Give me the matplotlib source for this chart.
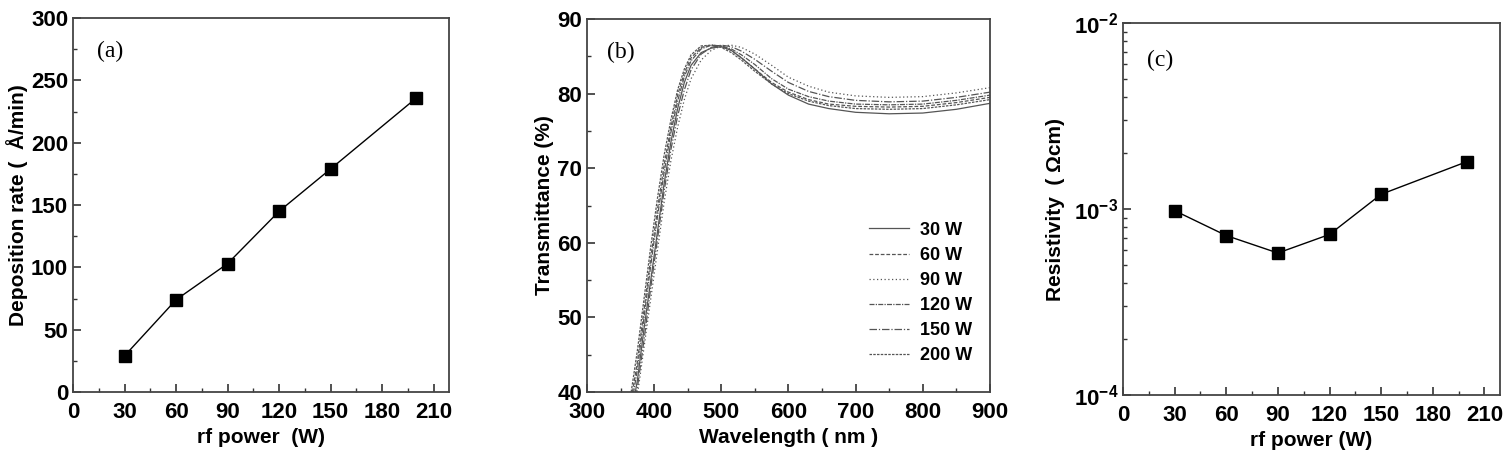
import matplotlib
matplotlib.use('Agg')
import matplotlib.pyplot as plt
from matplotlib.ticker import MultipleLocator, FixedLocator, FixedFormatter, LogLocator, NullFormatter

plt.rcParams['font.family'] = ['Liberation Sans', 'DejaVu Sans']
plt.rcParams['font.weight'] = 'bold'
plt.rcParams['mathtext.fontset'] = 'custom'
plt.rcParams['mathtext.rm'] = 'Liberation Sans:bold'
plt.rcParams['mathtext.bf'] = 'Liberation Sans:bold'

# (a) deposition rate vs rf power
power = [30, 60, 90, 120, 150, 200]
dep_rate = [29, 74, 103, 145, 179, 236]

# (c) resistivity vs rf power
resistivity = [0.98e-3, 0.72e-3, 0.58e-3, 0.73e-3, 1.2e-3, 1.8e-3]

# (b) transmittance spectra
wl = [365, 375, 385, 395, 405, 415, 425, 435, 445, 455, 470, 485, 500,
      515, 530, 550, 575, 600, 630, 660, 700, 750, 800, 850, 900]
trans = {
    '30 W':  [36.5, 41.5, 48.5, 55.0, 61.5, 68.0, 73.5, 78.0, 81.5, 83.8, 85.5, 86.1, 86.3,
              85.8, 84.8, 83.3, 81.3, 79.8, 78.6, 78.0, 77.5, 77.3, 77.4, 77.9, 78.7],
    '60 W':  [38.5, 44.0, 51.0, 58.0, 64.5, 70.5, 75.5, 79.8, 82.8, 84.8, 86.2, 86.5, 86.4,
              85.8, 84.8, 83.3, 81.5, 80.2, 79.2, 78.6, 78.3, 78.2, 78.3, 78.8, 79.5],
    '90 W':  [35.0, 39.5, 46.0, 52.5, 59.0, 65.5, 71.0, 75.5, 79.2, 82.0, 84.5, 85.8, 86.4,
              86.5, 86.2, 85.3, 83.8, 82.2, 81.0, 80.2, 79.7, 79.5, 79.6, 80.1, 80.8],
    '120 W': [37.5, 43.0, 50.0, 57.0, 63.5, 69.5, 74.8, 79.0, 82.3, 84.4, 86.0, 86.5, 86.4,
              86.0, 85.2, 83.9, 82.0, 80.6, 79.6, 79.0, 78.6, 78.5, 78.6, 79.1, 79.8],
    '150 W': [36.0, 40.5, 47.0, 54.0, 60.5, 67.0, 72.5, 77.0, 80.5, 83.2, 85.3, 86.2, 86.5,
              86.3, 85.7, 84.6, 83.0, 81.5, 80.3, 79.6, 79.1, 78.9, 79.0, 79.5, 80.2],
    '200 W': [39.5, 45.5, 52.5, 59.5, 66.0, 71.8, 76.5, 80.5, 83.3, 85.2, 86.4, 86.5, 86.2,
              85.5, 84.5, 83.0, 81.3, 80.0, 79.0, 78.4, 78.0, 77.9, 78.0, 78.5, 79.2],
}
styles = ['-', (0, (3, 1.5)), (0, (1, 2)), (0, (4, 1, 1, 1)), (0, (6, 1.5, 1, 1.5)), (0, (2, 1))]

fig = plt.figure(figsize=(15.12, 4.65), dpi=100)
ax1 = fig.add_axes([0.0483, 0.157, 0.2487, 0.804])
ax2 = fig.add_axes([0.3882, 0.157, 0.2665, 0.802])
ax3 = fig.add_axes([0.7427, 0.1505, 0.2493, 0.80])


def style_axes(ax):
    for s in ax.spines.values():
        s.set_linewidth(1.3)
        s.set_color('#444444')
    ax.tick_params(which='major', length=6, direction='in', labelsize=16,
                   width=1.2, color='#333333')
    ax.tick_params(axis='x', which='major', pad=7)
    ax.tick_params(which='minor', length=3, direction='in', width=1.0, color='#333333')


# panel a
ax1.plot(power, dep_rate, color='black', lw=1.0, marker='s', ms=9)
ax1.set_xlim(0, 219)
ax1.set_ylim(0, 300)
ax1.xaxis.set_major_locator(MultipleLocator(30))
ax1.xaxis.set_minor_locator(MultipleLocator(15))
ax1.yaxis.set_major_locator(MultipleLocator(50))
ax1.yaxis.set_minor_locator(MultipleLocator(25))
style_axes(ax1)
ax1.set_xlabel('rf power  (W)', fontsize=15, fontweight='bold')
ax1.set_ylabel('Deposition rate (  Å/min)', fontsize=15, fontweight='bold', labelpad=2)
ax1.text(0.065, 0.91, '(a)', transform=ax1.transAxes, fontsize=17,
         family='Liberation Serif', fontweight='normal', va='center')

# panel b
for (lab, vals), ls in zip(trans.items(), styles):
    ax2.plot(wl, vals, color='#555555', lw=0.9, ls=ls, label=lab)
ax2.set_xlim(300, 900)
ax2.set_ylim(40, 90)
ax2.xaxis.set_major_locator(MultipleLocator(100))
ax2.xaxis.set_minor_locator(MultipleLocator(50))
ax2.yaxis.set_major_locator(MultipleLocator(10))
ax2.yaxis.set_minor_locator(MultipleLocator(5))
style_axes(ax2)
ax2.set_xlabel('Wavelength ( nm )', fontsize=15, fontweight='bold')
ax2.set_ylabel('Transmittance (%)', fontsize=15, fontweight='bold', labelpad=2)
ax2.text(0.05, 0.91, '(b)', transform=ax2.transAxes, fontsize=17,
         family='Liberation Serif', fontweight='normal', va='center')
ax2.legend(loc='upper left', bbox_to_anchor=(0.66, 0.5), frameon=False,
           fontsize=13, handlelength=2.2, handletextpad=0.6, labelspacing=0.45)

# panel c
ax3.plot(power, resistivity, color='black', lw=1.0, marker='s', ms=9)
ax3.set_yscale('log')
ax3.set_xlim(0, 219)
ax3.set_ylim(1e-4, 1e-2)
ax3.xaxis.set_major_locator(MultipleLocator(30))
ax3.xaxis.set_minor_locator(MultipleLocator(15))
ax3.yaxis.set_major_locator(FixedLocator([1e-4, 1e-3, 1e-2]))
ax3.yaxis.set_major_formatter(FixedFormatter([r'$\mathbf{10^{-4}}$', r'$\mathbf{10^{-3}}$', r'$\mathbf{10^{-2}}$']))
ax3.yaxis.set_minor_locator(LogLocator(base=10, subs=range(2, 10)))
ax3.yaxis.set_minor_formatter(NullFormatter())
style_axes(ax3)
ax3.set_xlabel('rf power (W)', fontsize=15, fontweight='bold')
ax3.set_ylabel('Resistivity  ( Ωcm)', fontsize=15, fontweight='bold', labelpad=6)
ax3.text(0.065, 0.9, '(c)', transform=ax3.transAxes, fontsize=17,
         family='Liberation Serif', fontweight='normal', va='center')

fig.savefig('out.png', dpi=100)
